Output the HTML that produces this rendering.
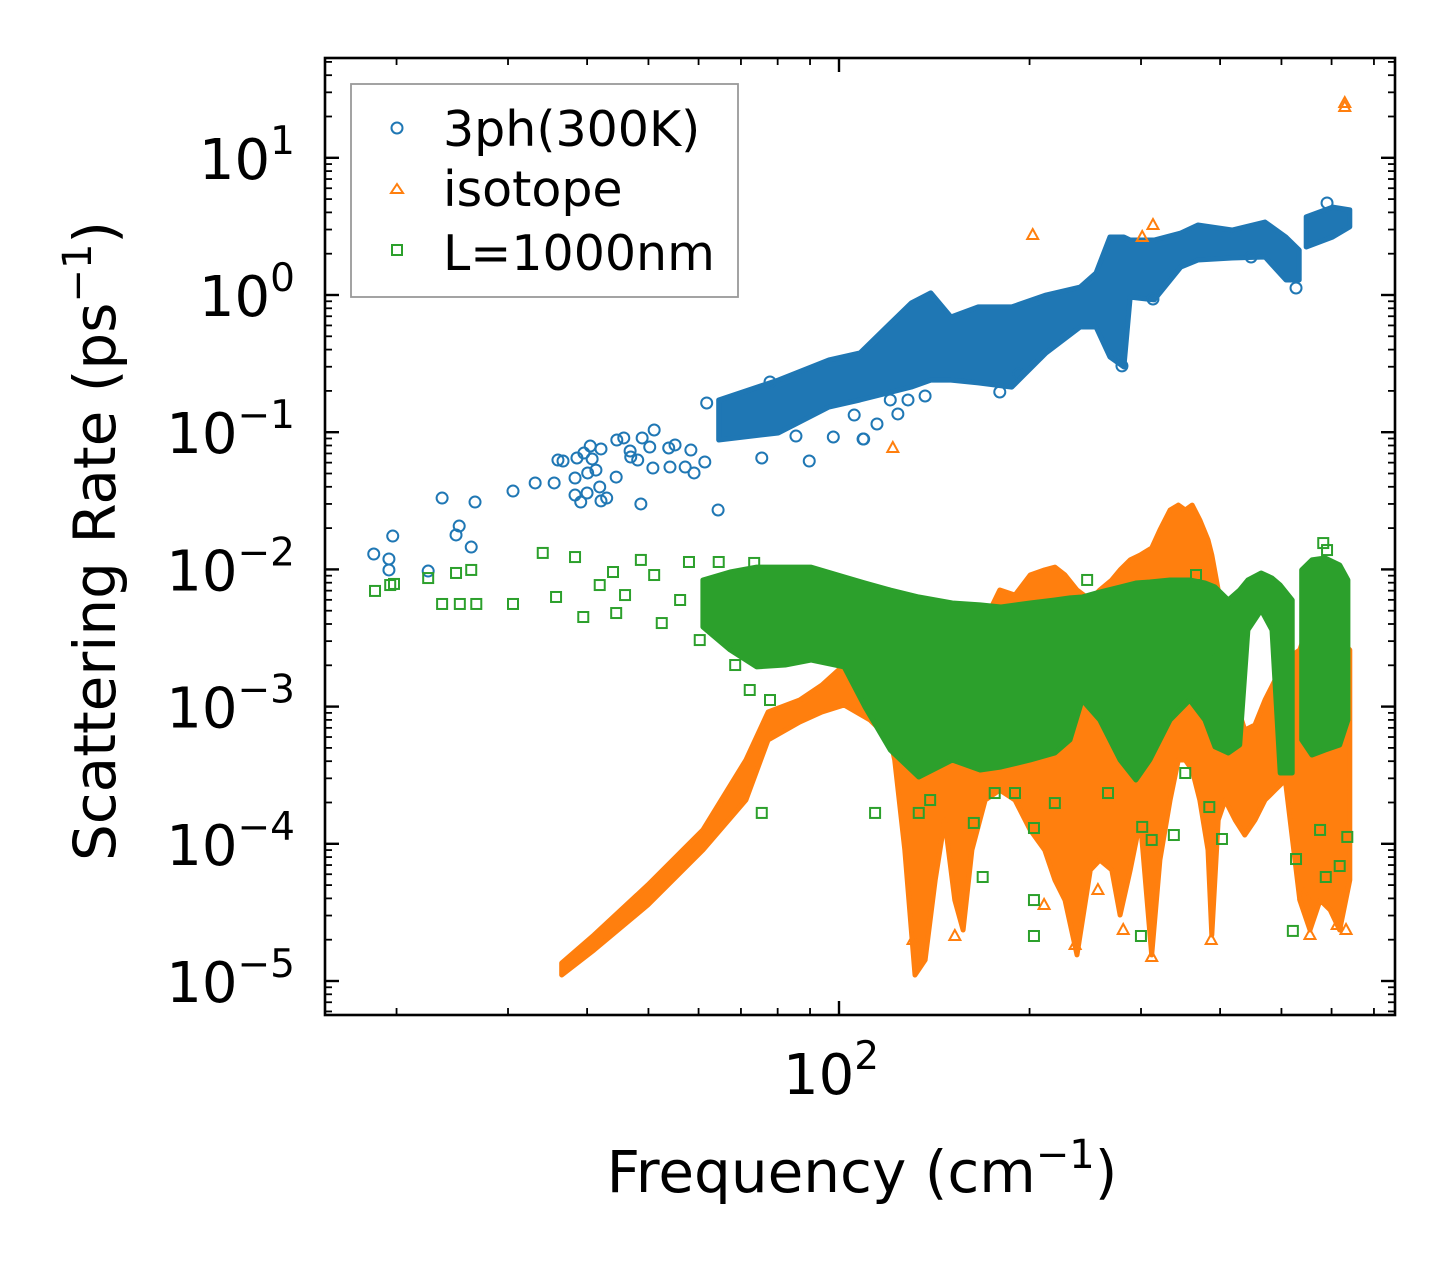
<!DOCTYPE html>
<html><head><meta charset="utf-8"><style>
html,body{margin:0;padding:0;background:#fff;}
svg{display:block;font-family:"DejaVu Sans","Liberation Sans",sans-serif;}
</style></head><body>
<svg id="chart" width="1455" height="1265" viewBox="0 0 1455 1265" xmlns="http://www.w3.org/2000/svg">
<rect x="0" y="0" width="1455" height="1265" fill="#fff"/>
<g id="marks"></g>
<g id="axes"></g>
<g id="legend">
<rect x="351" y="84" width="387" height="213" fill="#fff" fill-opacity="0.85" stroke="#999" stroke-width="1.8"/>
<circle cx="397" cy="128" r="5.5" fill="none" stroke="#1f77b4" stroke-width="2"/>
<text x="443" y="146" font-size="49">3ph(300K)</text>
<polygon points="397,184 403,193 391,193" fill="none" stroke="#ff7f0e" stroke-width="2"/>
<text x="443" y="206" font-size="49">isotope</text>
<rect x="392" y="245" width="10" height="10" fill="none" stroke="#2ca02c" stroke-width="2"/>
<text x="443" y="270" font-size="49">L=1000nm</text>
</g>
<text x="862" y="1192" font-size="58" text-anchor="middle">Frequency (cm<tspan font-size="40" dy="-24">−1</tspan><tspan dy="24">)</tspan></text>
<text transform="translate(115,541) rotate(-90)" font-size="58" text-anchor="middle">Scattering Rate (ps<tspan font-size="40" dy="-24">−1</tspan><tspan dy="24">)</tspan></text>
</svg>
<script>
// Data in log10 units: log10(frequency / cm^-1), log10(rate / ps^-1)
const blueBandLogF = [1.810,1.904,1.984,2.033,2.114,2.145,2.177,2.220,2.273,2.327,2.381,2.406,2.428,2.450,2.460,2.498,2.540,2.567,2.621,2.673,2.706,2.727];
const blueBandTop  = [-0.765,-0.620,-0.474,-0.423,-0.058,0.015,-0.160,-0.087,-0.087,0.000,0.058,0.160,0.423,0.423,0.401,0.401,0.452,0.510,0.474,0.532,0.423,0.328];
const blueBandBot  = [-1.057,-1.006,-0.816,-0.765,-0.671,-0.620,-0.620,-0.641,-0.671,-0.423,-0.233,-0.233,-0.452,-0.525,-0.015,-0.036,0.204,0.255,0.270,0.277,0.109,0.109];
const blueBand2LogF = [2.738,2.780,2.807];
const blueBand2Top  = [0.569,0.641,0.620];
const blueBand2Bot  = [0.350,0.423,0.496];
const blueLogF = [1.265,1.289,1.289,1.295,1.351,1.373,1.395,1.400,1.419,1.425,1.485,1.520,1.550,1.556,1.564,1.583,1.583,1.592,1.602,1.603,1.586,1.597,1.607,1.610,1.616,1.622,1.624,1.633,1.624,1.648,1.649,1.660,1.670,1.671,1.682,1.687,1.689,1.701,1.706,1.708,1.731,1.733,1.741,1.757,1.766,1.771,1.788,1.791,1.809,1.878,1.891,1.932,1.953,1.991,2.024,2.038,2.039,2.060,2.081,2.093,2.109,2.136,2.254,2.284,2.447,2.496,2.651,2.722,2.771];
const blueLogR = [-1.888,-1.924,-2.004,-1.757,-2.012,-1.480,-1.749,-1.684,-1.837,-1.509,-1.429,-1.370,-1.370,-1.203,-1.210,-1.458,-1.334,-1.509,-1.443,-1.297,-1.188,-1.152,-1.101,-1.195,-1.276,-1.399,-1.501,-1.480,-1.122,-1.327,-1.057,-1.042,-1.137,-1.181,-1.203,-1.523,-1.042,-1.108,-1.261,-0.984,-1.115,-1.254,-1.093,-1.254,-1.130,-1.297,-1.217,-0.787,-1.567,-1.188,-0.634,-1.028,-1.210,-1.035,-0.875,-1.050,-1.050,-0.940,-0.765,-0.867,-0.765,-0.736,-0.707,-0.576,-0.517,-0.029,0.277,0.051,0.671];
const orangeBandLogF = [1.562,1.613,1.698,1.785,1.853,1.888,1.938,1.973,2.008,2.049,2.081,2.088,2.104,2.120,2.136,2.152,2.167,2.183,2.196,2.210,2.231,2.254,2.278,2.302,2.325,2.341,2.357,2.376,2.397,2.412,2.431,2.444,2.460,2.476,2.494,2.507,2.523,2.536,2.547,2.558,2.570,2.583,2.589,2.599,2.610,2.626,2.641,2.657,2.673,2.689,2.705,2.728,2.744,2.760,2.776,2.791,2.807];
const orangeBandTop  = [-4.869,-4.665,-4.300,-3.899,-3.389,-3.039,-2.952,-2.843,-2.697,-2.806,-2.915,-2.660,-2.515,-2.515,-2.515,-2.515,-2.442,-2.442,-2.442,-2.405,-2.369,-2.150,-2.187,-2.041,-2.004,-1.983,-2.041,-2.150,-2.223,-2.150,-2.077,-2.004,-1.931,-1.895,-1.844,-1.713,-1.567,-1.531,-1.567,-1.531,-1.640,-1.786,-1.895,-2.150,-2.515,-2.952,-3.171,-3.134,-2.952,-2.806,-2.660,-2.587,-2.369,-2.369,-2.369,-2.515,-2.587];
const orangeBandBot  = [-4.956,-4.774,-4.446,-4.045,-3.681,-3.243,-3.112,-3.039,-2.988,-3.098,-3.243,-3.389,-4.045,-4.956,-4.847,-4.264,-3.827,-4.410,-4.628,-4.045,-3.681,-3.608,-3.681,-3.899,-4.045,-4.264,-4.410,-4.810,-4.191,-4.118,-4.191,-4.519,-4.191,-3.827,-4.810,-4.118,-3.681,-3.389,-3.389,-3.462,-3.681,-4.045,-4.665,-3.827,-3.681,-3.827,-3.936,-3.827,-3.681,-3.608,-3.535,-4.410,-4.628,-4.410,-4.482,-4.628,-4.264];
const orangeLogF = [2.085,2.306,2.479,2.496,2.799,2.799,2.324,2.373,2.409,2.449,2.494,2.588,2.735,2.744,2.787,2.801,2.183,2.117];
const orangeLogR = [-1.115,0.437,0.423,0.510,1.399,1.370,-4.446,-4.738,-4.337,-4.628,-4.825,-4.701,-4.373,-4.665,-4.592,-4.628,-4.672,-4.701];
const greenBandLogF = [1.785,1.828,1.870,1.915,1.956,2.008,2.041,2.081,2.126,2.179,2.223,2.256,2.302,2.341,2.365,2.384,2.412,2.444,2.469,2.491,2.523,2.554,2.578,2.594,2.615,2.633,2.646,2.667,2.684,2.697,2.716];
const greenBandTop  = [-2.077,-2.019,-1.983,-1.983,-1.983,-2.055,-2.099,-2.150,-2.201,-2.245,-2.259,-2.274,-2.245,-2.223,-2.208,-2.201,-2.165,-2.128,-2.099,-2.092,-2.077,-2.077,-2.099,-2.128,-2.223,-2.150,-2.077,-2.026,-2.063,-2.114,-2.223];
const greenBandBot  = [-2.420,-2.587,-2.711,-2.697,-2.660,-2.711,-3.003,-3.316,-3.513,-3.389,-3.462,-3.440,-3.389,-3.338,-3.243,-2.952,-3.098,-3.389,-3.535,-3.389,-3.098,-2.952,-3.098,-3.294,-3.338,-3.280,-2.442,-2.296,-2.442,-3.484,-3.484];
const greenBand2LogF = [2.731,2.747,2.768,2.791,2.804];
const greenBand2Top  = [-2.004,-1.931,-1.917,-1.968,-2.077];
const greenBand2Bot  = [-3.243,-3.353,-3.316,-3.280,-3.098];
const greenLogF = [1.267,1.291,1.297,1.351,1.373,1.401,1.427,1.485,1.395,1.419,1.532,1.583,1.553,1.596,1.648,1.720,1.643,1.708,1.687,1.763,1.810,1.866,1.622,1.662,1.749,1.780,1.836,1.859,1.891,1.878,2.057,2.126,2.144,2.213,2.227,2.246,2.278,2.308,2.308,2.308,2.341,2.425,2.477,2.479,2.494,2.529,2.547,2.585,2.605,2.717,2.722,2.769,2.791,2.803,2.392,2.564,2.765,2.771,2.599,2.760];
const greenLogR = [-2.157,-2.114,-2.106,-2.063,-2.252,-2.252,-2.252,-2.252,-2.026,-2.004,-1.880,-1.910,-2.201,-2.347,-2.318,-2.391,-2.019,-2.041,-1.931,-1.946,-1.946,-1.953,-2.114,-2.187,-2.223,-2.515,-2.697,-2.879,-2.952,-3.775,-3.775,-3.775,-3.681,-3.848,-4.242,-3.630,-3.630,-3.885,-4.410,-4.672,-3.703,-3.630,-4.672,-3.877,-3.972,-3.936,-3.484,-3.732,-3.965,-4.635,-4.111,-4.242,-4.162,-3.950,-2.077,-2.041,-1.808,-1.859,-2.587,-3.899];
const yTickExps = [-5,-4,-3,-2,-1,0,1];
const xTickExps = [2];

const NS = "http://www.w3.org/2000/svg";
const L = 325, R = 1395, T = 58, B = 1015;
const X0 = 839, XD = 633;
const Y0 = 295, YD = 137.2;
function xs(lf){ return X0 + (lf - 2) * XD; }
function ys(lr){ return Y0 - lr * YD; }

const marks = document.getElementById('marks');
const axes = document.getElementById('axes');
function mk(tag, attrs, parent){
  const e = document.createElementNS(NS, tag);
  for (const k in attrs) e.setAttribute(k, attrs[k]);
  parent.appendChild(e);
  return e;
}
const clip = mk('clipPath', {id:'pc'}, marks);
mk('rect', {x:L, y:T, width:R-L, height:B-T}, clip);
const plotG = mk('g', {'clip-path':'url(#pc)'}, marks);

function band(f, top, bot, color, name){
  let pts = [];
  for (let i=0;i<f.length;i++) pts.push(xs(f[i]).toFixed(1)+','+ys(top[i]).toFixed(1));
  for (let i=f.length-1;i>=0;i--) pts.push(xs(f[i]).toFixed(1)+','+ys(bot[i]).toFixed(1));
  const p = mk('polygon', {points: pts.join(' '), fill: color, stroke: color, 'stroke-width': 5, 'stroke-linejoin':'round'}, plotG);
  
  
}
function circles(f, r, color){
  for (let i=0;i<f.length;i++){
    const c = mk('circle', {cx: xs(f[i]), cy: ys(r[i]), r: 5.5, fill:'none', stroke: color, 'stroke-width': 2}, plotG);
    
    
  }
}
function tris(f, r, color){
  for (let i=0;i<f.length;i++){
    const x = xs(f[i]), y = ys(r[i]);
    const t = mk('polygon', {points: x+','+(y-6)+' '+(x+5.5)+','+(y+4)+' '+(x-5.5)+','+(y+4), fill:'none', stroke: color, 'stroke-width': 2}, plotG);
    
    
  }
}
function squares(f, r, color){
  for (let i=0;i<f.length;i++){
    const s = mk('rect', {x: xs(f[i])-5, y: ys(r[i])-5, width: 10, height: 10, fill:'none', stroke: color, 'stroke-width': 2}, plotG);
    
    
  }
}
const BLUE='#1f77b4', ORANGE='#ff7f0e', GREEN='#2ca02c';
band(blueBandLogF, blueBandTop, blueBandBot, BLUE, '3ph-dense-band');
band(blueBand2LogF, blueBand2Top, blueBand2Bot, BLUE, '3ph-dense-band-high');
circles(blueLogF, blueLogR, BLUE);
band(orangeBandLogF, orangeBandTop, orangeBandBot, ORANGE, 'isotope-dense-band');
tris(orangeLogF, orangeLogR, ORANGE);
band(greenBandLogF, greenBandTop, greenBandBot, GREEN, 'boundary-dense-band');
band(greenBand2LogF, greenBand2Top, greenBand2Bot, GREEN, 'boundary-dense-band-high');
squares(greenLogF, greenLogR, GREEN);

const frame = mk('rect', {x:L, y:T, width:R-L, height:B-T, fill:'none', stroke:'#000', 'stroke-width':2.6}, axes);



function tick(x1,y1,x2,y2,w){ mk('line',{x1:x1,y1:y1,x2:x2,y2:y2,stroke:'#000','stroke-width':w}, axes); }
for (let e=-6;e<=1;e++){
  for (let m=1;m<=9;m++){
    const lr = e + Math.log10(m);
    const y = ys(lr);
    if (y < T || y > B) continue;
    const len = m===1 ? 14 : 7, w = m===1 ? 2.4 : 1.8;
    tick(L, y, L+len, y, w);
    tick(R, y, R-len, y, w);
  }
}
yTickExps.forEach(function(e){
  const t = mk('text', {x: 295, y: ys(e)+21, 'font-size': 56, 'text-anchor':'end'}, axes);
  
  
  const a = mk('tspan', {}, t); a.textContent = '10';
  const b = mk('tspan', {'font-size': 39, dy: -25}, t); b.textContent = e<0 ? '−'+(-e) : String(e);
});
for (let e=1;e<=2;e++){
  for (let m=1;m<=9;m++){
    const lf = e + Math.log10(m);
    const x = xs(lf);
    if (x < L || x > R) continue;
    const len = m===1 ? 14 : 7, w = m===1 ? 2.4 : 1.8;
    tick(x, B, x, B-len, w);
    tick(x, T, x, T+len, w);
  }
}
xTickExps.forEach(function(e){
  const t = mk('text', {x: xs(e)-8, y: 1094, 'font-size': 56, 'text-anchor':'middle'}, axes);
  
  
  const a = mk('tspan', {}, t); a.textContent = '10';
  const b = mk('tspan', {'font-size': 39, dy: -25}, t); b.textContent = String(e);
});
</script>
</body></html>
